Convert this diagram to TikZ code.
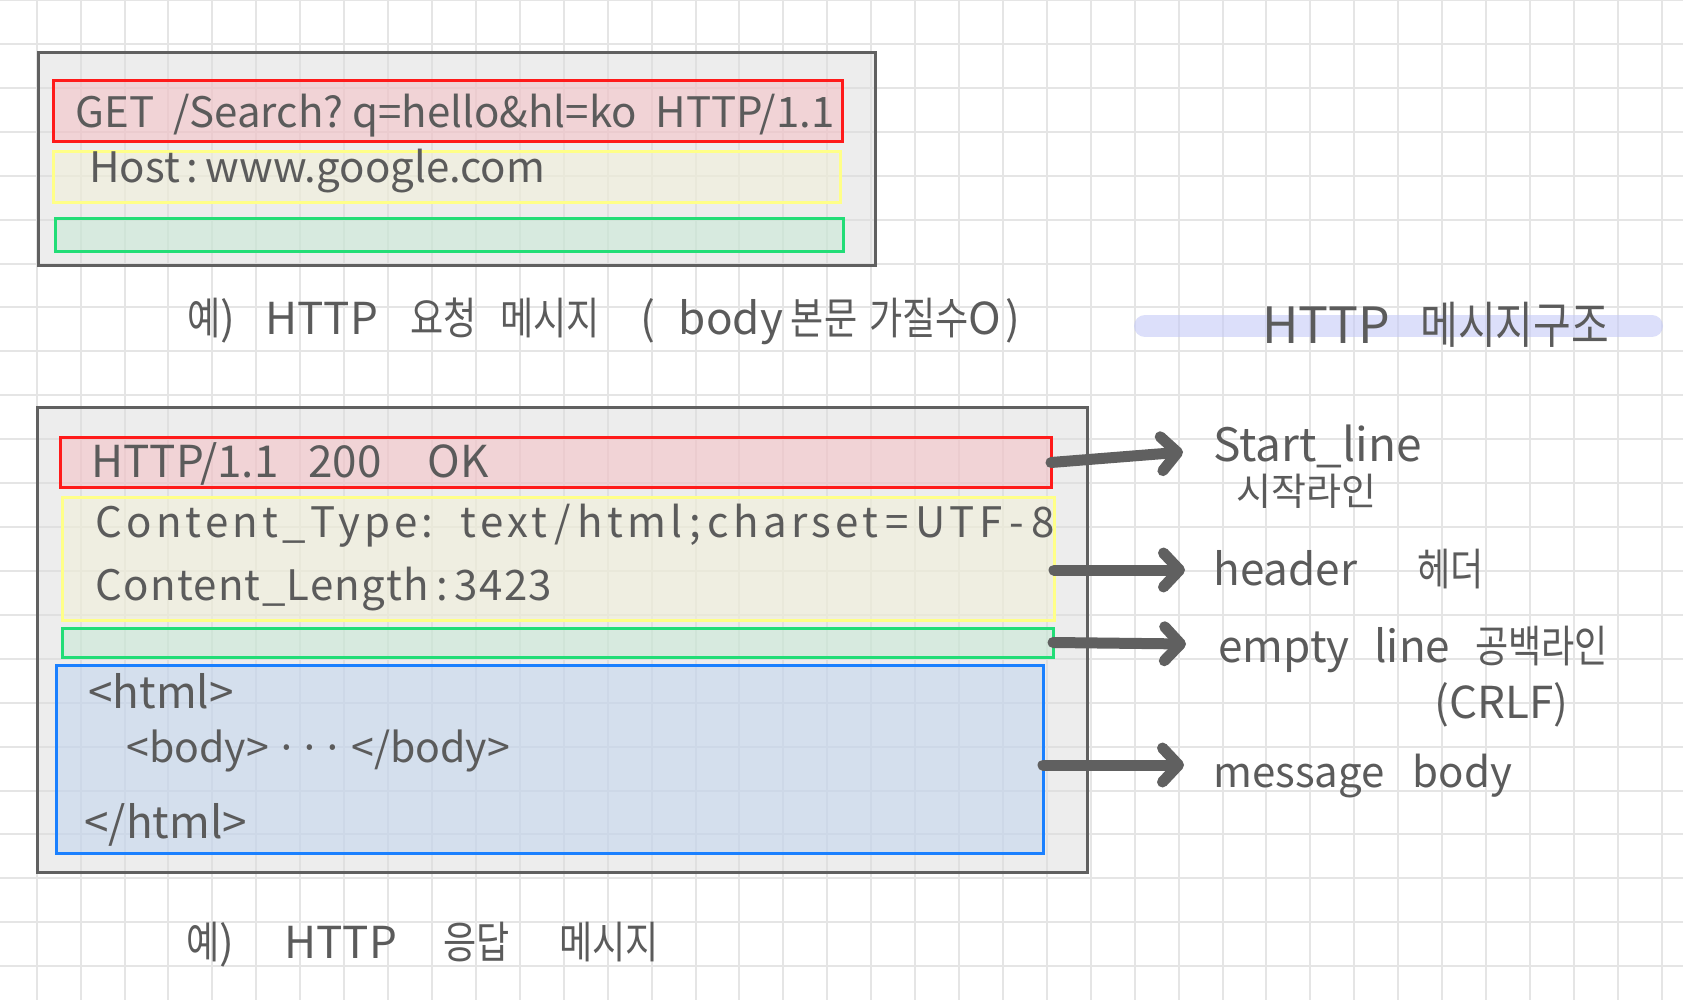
\documentclass[tikz,border=0pt]{standalone}
\usepackage{fontspec}
\usepackage{tikz}
\usetikzlibrary{arrows.meta,positioning}
\newfontfamily\hand{Noto Sans CJK KR}
\newfontfamily\hanko[FakeStretch=0.82]{Noto Sans CJK KR}
\definecolor{GridGray}{HTML}{E5E5E5}
\definecolor{FrameGray}{HTML}{606060}
\definecolor{PanelGray}{HTML}{DDDDDD}
\definecolor{Ink}{HTML}{5B5B5B}
\definecolor{StartRed}{HTML}{FF1A1A}
\definecolor{StartFill}{HTML}{F6BAC0}
\definecolor{HeadYellow}{HTML}{FFFF88}
\definecolor{HeadFill}{HTML}{F2F0D6}
\definecolor{EmptyGreen}{HTML}{22DD77}
\definecolor{EmptyFill}{HTML}{C2E8D2}
\definecolor{BodyBlue}{HTML}{1A80FF}
\definecolor{BodyFill}{HTML}{BCD2EE}
\definecolor{Marker}{HTML}{C5CAF7}
\newcommand{\handsize}[1]{\hand\fontsize{#1}{#1}\selectfont}
\newcommand{\ko}[1]{{\hanko #1}}

\begin{document}
\begin{tikzpicture}[
  x=0.5pt, y=-0.5pt,
  gridline/.style={GridGray,line width=1pt},
  panel/.style={draw=FrameGray,fill=PanelGray,fill opacity=0.5,line width=1.5pt,anchor=north west,inner sep=0,outer sep=0},
  part/.style={line width=1.5pt,fill opacity=0.5,anchor=north west,inner sep=0,outer sep=0},
  flow/.style={-{Straight Barb[round,length=8pt,width=17pt]},line width=5.5pt,line cap=round,FrameGray},
  note/.style={anchor=base west,inner sep=0,text=Ink,font=\handsize{22}}
]
\useasboundingbox (0,0) rectangle (1683,1000);
% grid paper
\fill[white] (0,0) rectangle (1683,1000);
\foreach \k in {0,...,37} \draw[gridline] (36.7+43.92*\k,0) -- (36.7+43.92*\k,1000);
\foreach \k in {0,...,22} \draw[gridline] (0,43.92*\k) -- (1683,43.92*\k);

% request message
\node[panel,minimum width=418.5pt,minimum height=106.5pt] (req) at (38,53) {};
\node[part,draw=StartRed,fill=StartFill,minimum width=394.5pt,minimum height=30.5pt] (reqStart) at (53,81) {};
\node[part,draw=HeadYellow,fill=HeadFill,minimum width=393.5pt,minimum height=25.5pt] (reqHeader) at (53,152) {};
\node[part,draw=EmptyGreen,fill=EmptyFill,minimum width=394pt,minimum height=16.5pt] (reqEmpty) at (55,219) {};
\node[note,font=\handsize{21}] (reqLine) at (75,128) {GET\ \ /Search?\ q=hello\&hl=ko\ \ HTTP/1.1};
\node[note,font=\handsize{21}] (hostLine) at (89,183) {Host\,:\,www.google.com};
\node[note] (reqCaption) at (187,335) {\ko{예})\hspace{15pt}HTTP\hspace{16pt}\ko{요청}\hspace{12pt}\ko{메시지}\hspace{20pt}(\hspace{12pt}body\hspace{4pt}\ko{본문}\hspace{6pt}\ko{가질수}O\hspace{2pt})};

% response message
\node[panel,minimum width=525pt,minimum height=232pt] (res) at (37,408) {};
\node[part,draw=StartRed,fill=StartFill,minimum width=495.5pt,minimum height=24.5pt] (resStart) at (60,438) {};
\node[part,draw=HeadYellow,fill=HeadFill,minimum width=496pt,minimum height=61.5pt] (resHeader) at (62,497) {};
\node[part,draw=EmptyGreen,fill=EmptyFill,minimum width=495.5pt,minimum height=14.5pt] (resEmpty) at (62,628) {};
\node[part,draw=BodyBlue,fill=BodyFill,minimum width=493.5pt,minimum height=94pt] (resBody) at (56,665) {};
\node[note] (statusLine) at (91,478) {HTTP/1.1\hspace{15pt}200\hspace{23pt}OK};
\node[note,font=\handsize{21}\addfontfeature{LetterSpace=10}] (typeLine) at (95,538) {Content\_Type:\ \ text\,/\,html\,;\,charset\,=\,UTF\,-\,8};
\node[note,font=\handsize{21}\addfontfeature{LetterSpace=3}] (lengthLine) at (95,600) {Content\_Length\,:\,3423};
\node[note] (htmlOpen) at (88,708) {<html>};
\node[note,font=\handsize{20.5}] (bodyLine) at (126,762) {<body>\,···\,</body>};
\node[note] (htmlClose) at (84,838) {</html>};
\node[note] (resCaption) at (186,958) {\ko{예})\hspace{25pt}HTTP\hspace{23pt}\ko{응답}\hspace{25pt}\ko{메시지}};

% structure labels
\draw[Marker,opacity=0.6,line width=11pt,line cap=round] (1145,326) -- (1652,326);
\node[note,font=\handsize{25}] (title) at (1262,344) {HTTP\hspace{15pt}\ko{메시지구조}};
\node[note,font=\handsize{23}] (startLabel) at (1213,462) {Start\_line};
\node[note,font=\handsize{19}] (startKo) at (1236,505) {시작라인};
\node[note] (headerLabel) at (1213,585) {header\hspace{30pt}\ko{헤더}};
\node[note] (emptyLabel) at (1218,662) {empty\hspace{12.5pt}line\hspace{12.5pt}\ko{공백라인}};
\node[note] (crlfLabel) at (1434,718) {(CRLF)};
\node[note,font=\handsize{21}] (bodyLabel) at (1213,787) {message\hspace{14pt}body};

\coordinate (startTip) at (1183,452);
\coordinate (headerTip) at (1185,570);
\coordinate (emptyTip) at (1186,644);
\coordinate (bodyTip) at (1184,765);
\draw[flow] (resStart.east) -- (startTip);
\draw[flow] (resHeader.east |- headerTip) -- (headerTip);
\draw[flow] (resEmpty.east) -- (emptyTip);
\draw[flow] (resBody.east |- bodyTip) -- (bodyTip);
\end{tikzpicture}
\end{document}
